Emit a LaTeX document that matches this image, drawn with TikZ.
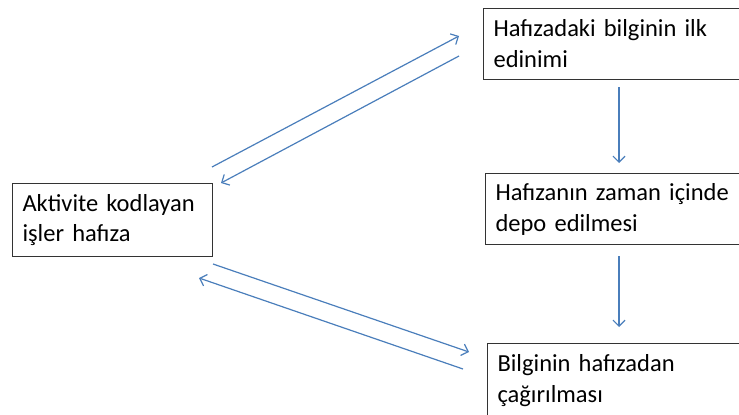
\documentclass[tikz,border=0pt]{standalone}
\usepackage{fontspec}
\setmainfont{Carlito}
\usetikzlibrary{arrows.meta}
\tikzset{
    kutu/.style={draw=black!80, line width=1.1pt, rectangle, anchor=north west,
        align=left, inner xsep=10pt, font=\fontsize{24.5}{31}\selectfont},
    ok/.style={-{Straight Barb[length=6pt,width=12pt]}, draw=okmavi, line width=1.2pt},
}
\definecolor{okmavi}{HTML}{4A7EBB}
\begin{document}
\begin{tikzpicture}[x=1pt,y=-1pt]
    \useasboundingbox (0,0) rectangle (739,415);
    % Kutular
    \node[kutu, minimum width=200pt, minimum height=73pt, text width=180pt] (aktivite) at (12,183) {Aktivite kodlayan\\işler hafıza};
    \node[kutu, minimum width=270pt, minimum height=71pt, text width=250pt] (edinim) at (483,8) {Hafızadaki bilginin ilk\\edinimi};
    \node[kutu, minimum width=270pt, minimum height=71pt, text width=250pt] (depo) at (485,173) {Hafızanın zaman içinde\\depo edilmesi};
    \node[kutu, minimum width=270pt, minimum height=75pt, text width=250pt] (cagirma) at (487,343) {Bilginin hafızadan\\çağırılması};
    % Ok uclari
    \coordinate (a1) at (212,167);
    \coordinate (e1) at (459,36);
    \coordinate (e2) at (459,56);
    \coordinate (a2) at (221,183);
    \coordinate (a3) at (213,264);
    \coordinate (c1) at (469,352);
    \coordinate (c2) at (463,369);
    \coordinate (a4) at (199,278);
    \coordinate (v1) at (619,87);
    \coordinate (v2) at (619,163);
    \coordinate (v3) at (619,256);
    \coordinate (v4) at (619,327);
    % Oklar
    \draw[ok] (a1) -- (e1);
    \draw[ok] (e2) -- (a2);
    \draw[ok] (a3) -- (c1);
    \draw[ok] (c2) -- (a4);
    \draw[ok] (v1) -- (v2);
    \draw[ok] (v3) -- (v4);
\end{tikzpicture}
\end{document}
